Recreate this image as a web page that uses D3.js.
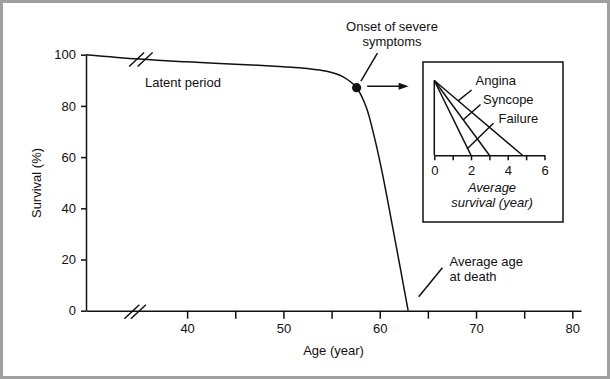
<!DOCTYPE html>
<html><head><meta charset="utf-8">
<script src="https://cdn.jsdelivr.net/npm/d3@7"></script>
<style>
body{margin:0;background:#fff}
svg{display:block}
text{font-family:"Liberation Sans",Arial,Helvetica,sans-serif;fill:#111;font-size:13px}
</style>
</head><body><svg id="c" width="610" height="379"></svg>
<script>
// Main survival curve (age in years, survival in %)
const ages     = [29.5, 35, 40, 45, 50, 52.5, 54.5, 56.1, 57.6, 58.6, 59.4, 60.2, 61.4, 62.95];
const survival = [100, 98.3, 97.2, 96.3, 95.3, 94.6, 93.5, 91.5, 87.1, 79.5, 68.5, 55, 31.5, 0];
const xTicks = [40, 45, 50, 55, 60, 65, 70, 75, 80];
const yTicks = [0, 20, 40, 60, 80, 100];
// Onset of severe symptoms
const onsetAge = 57.6, onsetSurvival = 87.1;
// Inset: average survival (years) after symptom onset
const insetCategories = ["Angina", "Syncope", "Failure"];
const insetSurvival   = [4.8, 3, 2];
const insetTicks = [0, 1, 2, 3, 4, 5, 6];
const insetTickLabels = [0, 2, 4, 6];

const svg = d3.select("#c");
const ink = "#111";

// border
svg.append("rect").attr("x",1.5).attr("y",1.5).attr("width",607).attr("height",376)
  .attr("fill","none").attr("stroke","#a0a0a0").attr("stroke-width",3);

const x = d3.scaleLinear().domain([29.5, 80.9]).range([86, 581]);
const y = d3.scaleLinear().domain([0, 100]).range([310.7, 54.7]);

// axes
const gx = svg.append("g").attr("transform",`translate(0,${y(0)})`)
  .call(d3.axisBottom(x).tickValues(xTicks).tickSize(8).tickSizeOuter(0).tickPadding(5.5)
    .tickFormat(d => d % 10 === 0 ? d : ""));
const gy = svg.append("g").attr("transform",`translate(${x(29.5)},0)`)
  .call(d3.axisLeft(y).tickValues(yTicks).tickSize(5).tickSizeOuter(0).tickPadding(5));
[gx, gy].forEach(g => {
  g.selectAll("path,line").attr("stroke", ink).attr("stroke-width", 1.5);
  g.selectAll("text").attr("fill", ink).style("font-size","13px")
   .style("font-family",'"Liberation Sans",Arial,sans-serif');
});

// survival curve
const line = d3.line().x((d,i)=>x(ages[i])).y(d=>y(d)).curve(d3.curveCatmullRom.alpha(0.5));
svg.append("path").attr("d", line(survival)).attr("fill","none")
  .attr("stroke", ink).attr("stroke-width", 1.5);

// break marks
function breakMark(cx, cy, gap){
  const g = svg.append("g");
  [-gap/2, gap/2].forEach(o => {
    g.append("line").attr("x1", cx+o-7.5).attr("y1", cy+7).attr("x2", cx+o+7.5).attr("y2", cy-7)
      .attr("stroke", ink).attr("stroke-width", 1.5);
  });
}
breakMark(x(34.6), y(0)+1, 6.5);
breakMark(x(35.2), y(98.1), 8.5);

// axis titles
svg.append("text").attr("x", 333.5).attr("y", 354.5).attr("text-anchor","middle").text("Age (year)");
svg.append("text").attr("transform","translate(40.5,183) rotate(-90)").attr("text-anchor","middle").text("Survival (%)");

// latent period
svg.append("text").attr("x", 145).attr("y", 87).text("Latent period");

// onset point
const ox = x(onsetAge), oy = y(onsetSurvival);
svg.append("circle").attr("cx", ox).attr("cy", oy).attr("r", 4.6).attr("fill", ink);
svg.append("line").attr("x1", ox+20.8).attr("y1", oy-34.7).attr("x2", ox+4.3).attr("y2", oy-6.7)
  .attr("stroke", ink).attr("stroke-width", 1.5);
svg.append("text").attr("x", 392).attr("y", 30.5).attr("text-anchor","middle").text("Onset of severe");
svg.append("text").attr("x", 392).attr("y", 46).attr("text-anchor","middle").text("symptoms");
// arrow
svg.append("line").attr("x1", ox+10.6).attr("y1", oy-1.5).attr("x2", ox+43).attr("y2", oy-1.5)
  .attr("stroke", ink).attr("stroke-width", 1.5);
svg.append("path").attr("d", `M${ox+52},${oy-1.5} L${ox+42},${oy-5} L${ox+42},${oy+2} Z`).attr("fill", ink);

// average age at death
svg.append("text").attr("x", 449.5).attr("y", 265.5).text("Average age");
svg.append("text").attr("x", 449.5).attr("y", 281).text("at death");
svg.append("line").attr("x1", 442.4).attr("y1", 267.7).attr("x2", 418.7).attr("y2", 296.7)
  .attr("stroke", ink).attr("stroke-width", 1.5);

// inset
svg.append("rect").attr("x", 423).attr("y", 62).attr("width", 140).attr("height", 160)
  .attr("fill","#fff").attr("stroke", ink).attr("stroke-width", 1.5);
const xi = d3.scaleLinear().domain([0, 6]).range([434.3, 544.5]);
const yi = d3.scaleLinear().domain([0, 1]).range([155.3, 80.5]);
const gi = svg.append("g").attr("transform",`translate(0,${yi(0)})`)
  .call(d3.axisBottom(xi).tickValues(insetTicks).tickSize(5).tickSizeOuter(0).tickPadding(5)
    .tickFormat(d => insetTickLabels.includes(d) ? d : ""));
gi.selectAll("path,line").attr("stroke", ink).attr("stroke-width", 1.5);
gi.selectAll("text").attr("fill", ink).style("font-size","13px")
  .style("font-family",'"Liberation Sans",Arial,sans-serif');
svg.append("line").attr("x1", xi(0)).attr("y1", yi(0)).attr("x2", xi(0)).attr("y2", yi(1))
  .attr("stroke", ink).attr("stroke-width", 1.5);
insetSurvival.forEach(v => {
  svg.append("line").attr("x1", xi(0)).attr("y1", yi(1)).attr("x2", xi(v)).attr("y2", yi(0))
    .attr("stroke", ink).attr("stroke-width", 1.5);
});
const insetLabelPos = [[475.5, 85], [483, 104], [498.5, 122.5]];
const insetLeaders = [[458.4,100.7,471.6,90],[463,120,480.5,104.5],[467,149,493.4,123.3]];
insetCategories.forEach((c,i) => {
  svg.append("text").attr("x", insetLabelPos[i][0]).attr("y", insetLabelPos[i][1]).text(c);
  const L = insetLeaders[i];
  svg.append("line").attr("x1",L[0]).attr("y1",L[1]).attr("x2",L[2]).attr("y2",L[3])
    .attr("stroke", ink).attr("stroke-width", 1.5);
});
svg.append("text").attr("x", 492).attr("y", 192).attr("text-anchor","middle")
  .style("font-style","italic").text("Average");
svg.append("text").attr("x", 492).attr("y", 207).attr("text-anchor","middle")
  .style("font-style","italic").text("survival (year)");
</script>
</body></html>
